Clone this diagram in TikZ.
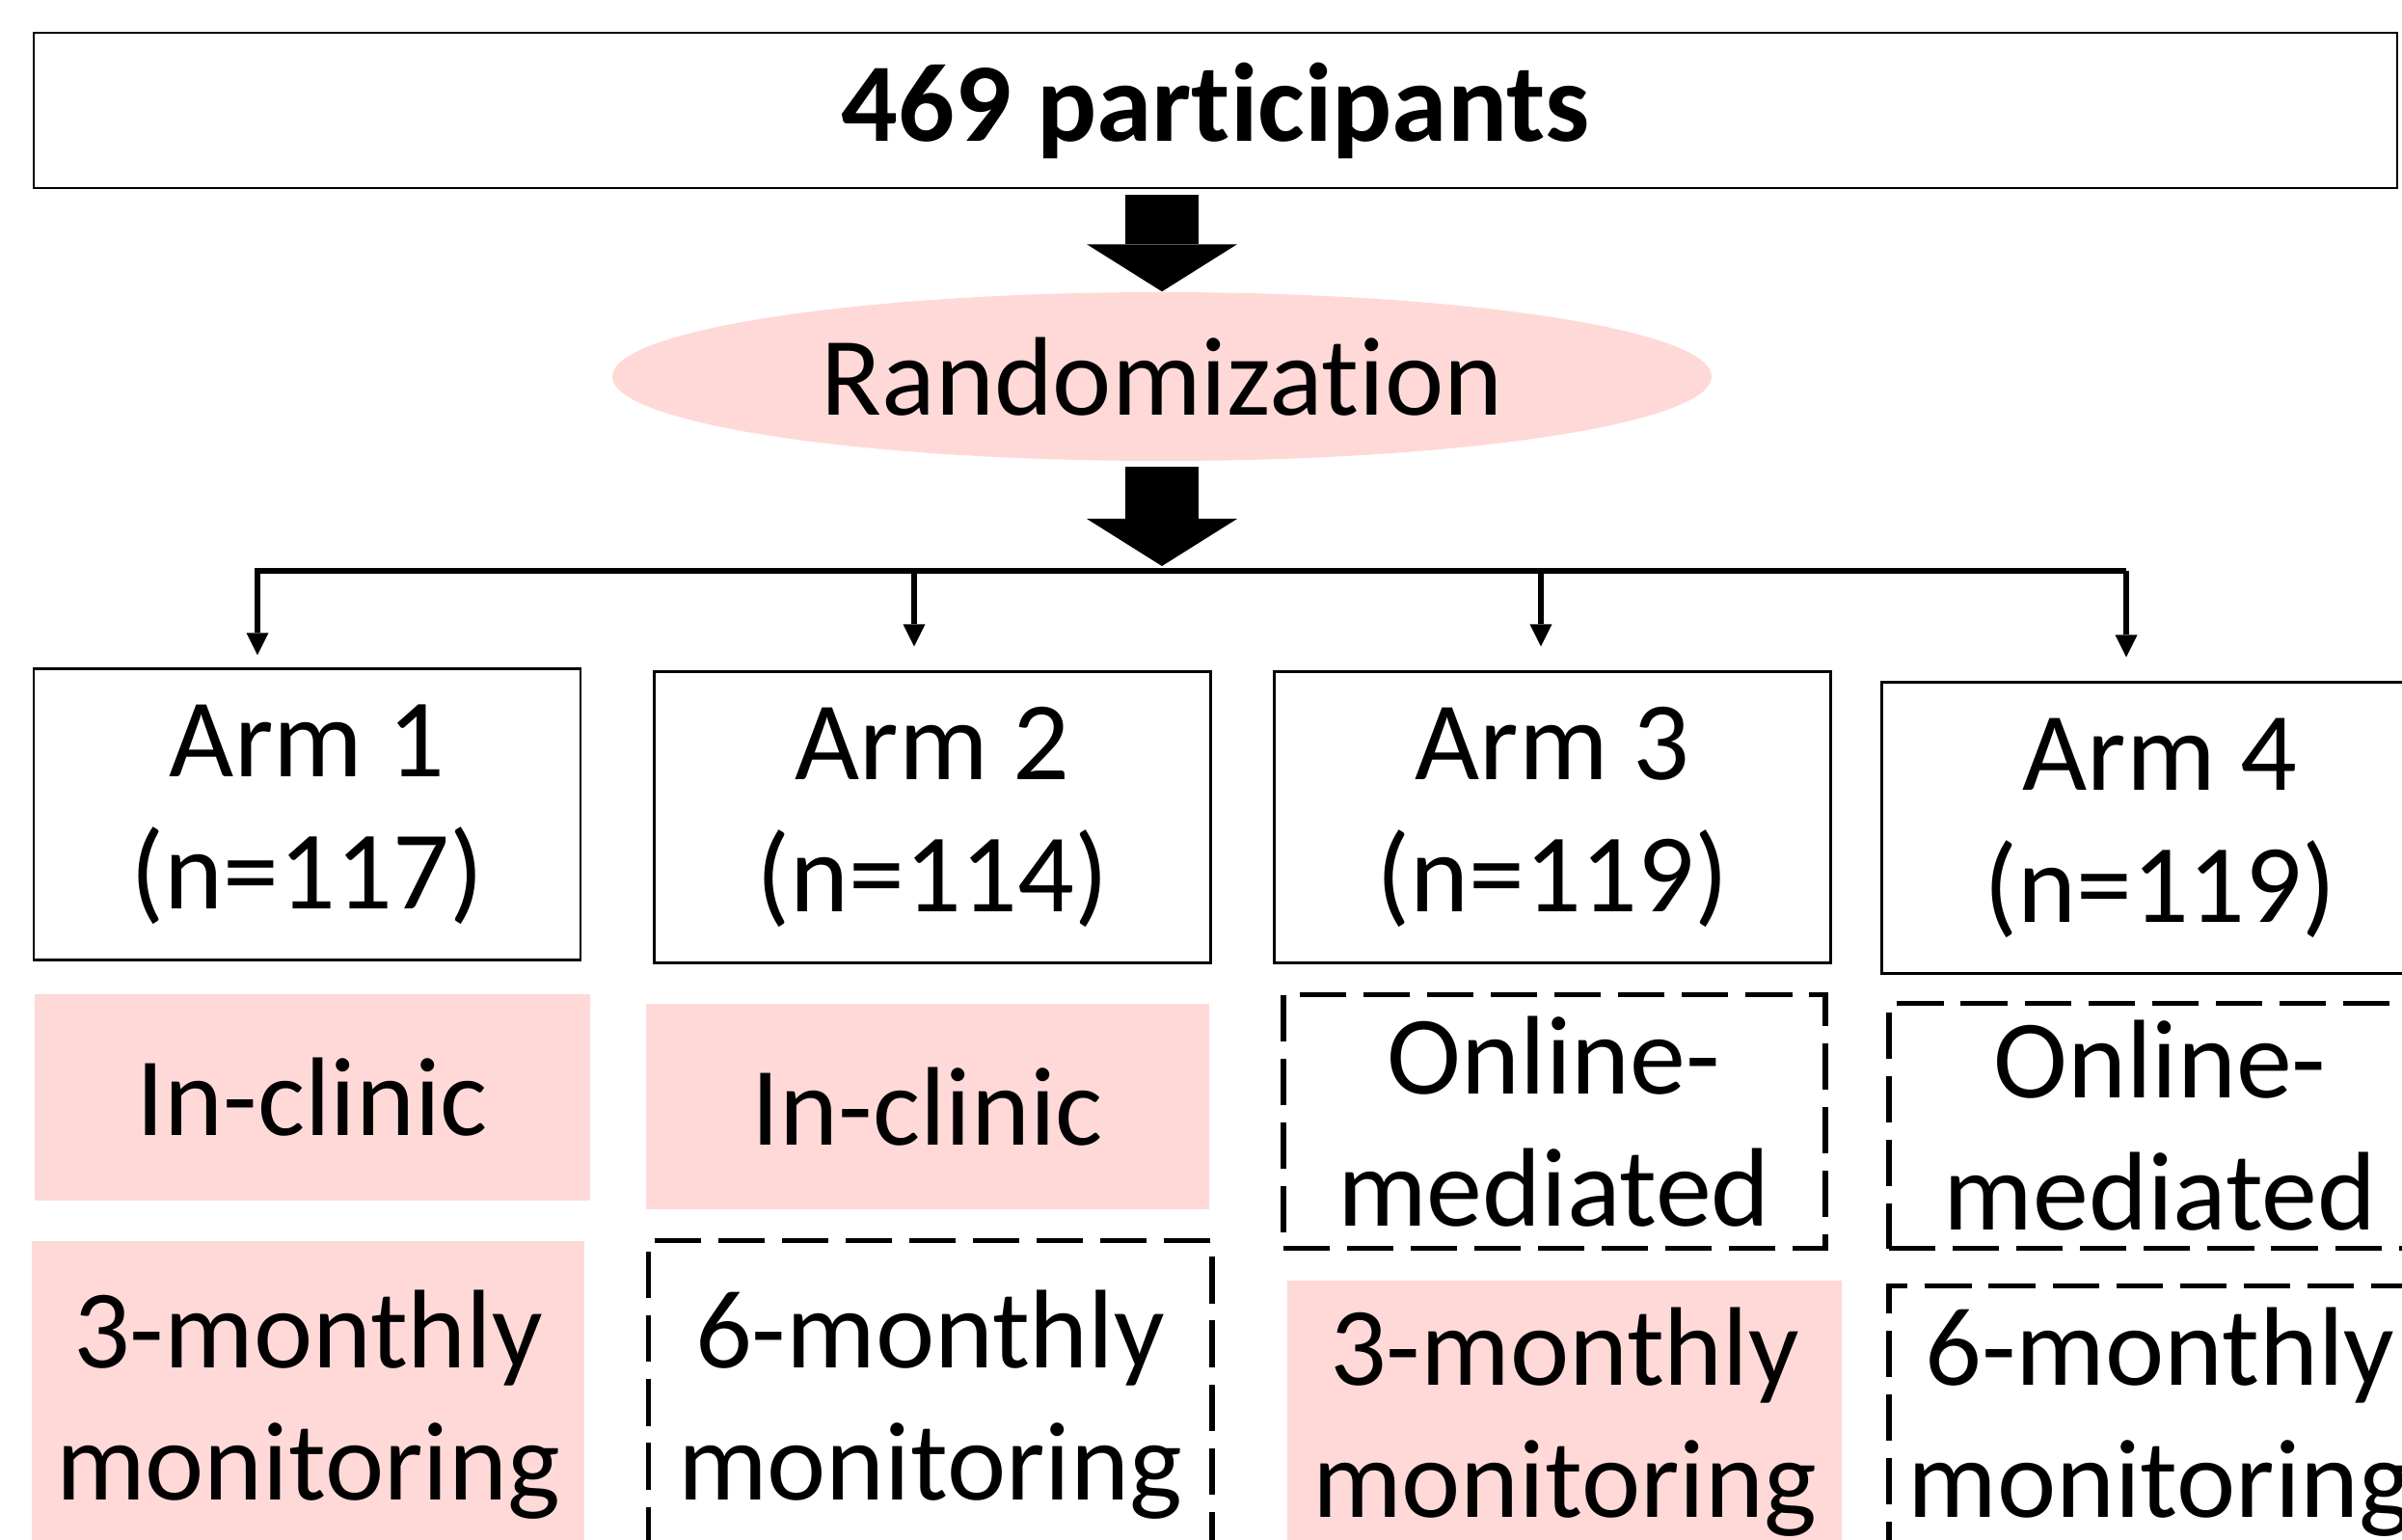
\documentclass[tikz,border=0pt]{standalone}
\usepackage{fontspec}
\setmainfont{Carlito}[RawFeature={-liga,-dlig,-clig}]
\usepackage{tikz}
\usetikzlibrary{arrows.meta,shapes.geometric,positioning}
\definecolor{ink}{HTML}{000000}
\definecolor{paper}{HTML}{FFFFFF}
\definecolor{pinkbg}{HTML}{FFD9D7}
\tikzset{
  bigtext/.style={font=\fontsize{33}{39}\selectfont},
  bigarr/.style={-{Triangle[width=1.56cm,length=0.49cm,line width=0pt]},line width=0.76cm,color=ink},
  thinarr/.style={-{Triangle[width=0.23cm,length=0.23cm,line width=0pt]},line width=1.85pt,color=ink,shorten >=0.25cm},
  titlecard/.style={draw=ink,fill=paper,line width=0.6pt,minimum width=24.51cm,minimum height=1.61cm,inner sep=0pt,font=\fontsize{33}{39}\selectfont\bfseries},
  randcard/.style={ellipse,fill=pinkbg,minimum width=11.4cm,minimum height=1.75cm,inner sep=0pt,bigtext},
  armcard/.style={draw=ink,line width=0.6pt,minimum width=5.77cm,minimum height=3.02cm,inner sep=0pt,align=center,bigtext},
  pinkcard/.style={fill=pinkbg,inner sep=0pt,align=center,bigtext},
  dashcard/.style={draw=ink,line width=1.7pt,dash pattern=on 13.7pt off 5.1pt,inner sep=0pt,align=center,bigtext}
}

\begin{document}
\begin{tikzpicture}[x=1cm,y=1cm,>=Latex]
  \clip (0,0) rectangle (24.91,-15.97);
  \node[titlecard] (top) at (12.605,-1.145) {469 participants};
  \node[randcard] (rand) at (12.05,-3.905) {Randomization};
  \coordinate (split) at (12.05,-5.87);
  \draw[bigarr] ([yshift=-0.06cm]rand.north |- top.south) -- (rand.north);
  \draw[bigarr] ([yshift=-0.05cm]rand.south) -- (split);

  \node[armcard,minimum width=5.67cm] (arm1) at (3.185,-8.445) {Arm 1\\(n=117)};
  \node[armcard] (arm2) at (9.67,-8.475) {Arm 2\\(n=114)};
  \node[armcard] (arm3) at (16.10,-8.475) {Arm 3\\(n=119)};
  \node[armcard] (arm4) at (22.40,-8.585) {Arm 4\\(n=119)};

  \coordinate (b1) at (2.67,-5.92); \coordinate (b2) at (9.48,-5.92);
  \coordinate (b3) at (15.98,-5.92); \coordinate (b4) at (22.05,-5.92);
  \draw[thinarr,shorten >=0.13cm] (b4) -- (b1) -- (b1 |- arm1.north);
  \foreach \i in {2,3,4} \draw[thinarr] (b\i) -- (b\i |- arm\i.north);

  \node[pinkcard,minimum width=5.76cm,minimum height=2.14cm] (mode1) at (3.24,-11.38) {In-clinic};
  \node[pinkcard,minimum width=5.84cm,minimum height=2.13cm] (mode2) at (9.62,-11.475) {In-clinic};
  \node[dashcard,minimum width=5.62cm,minimum height=2.63cm] (mode3) at (16.115,-11.63) {Online-\\mediated};
  \node[dashcard,minimum width=5.62cm,minimum height=2.54cm] (mode4) at (22.40,-11.675) {Online-\\mediated};

  \node[pinkcard,minimum width=5.73cm,minimum height=3.4cm] (freq1) at (3.195,-14.57) {3-monthly\\monitoring};
  \node[dashcard,minimum width=5.84cm,minimum height=3.4cm] (freq2) at (9.645,-14.565) {6-monthly\\monitoring};
  \node[pinkcard,minimum width=5.75cm,minimum height=2.94cm] (freq3) at (16.225,-14.75) {3-monthly\\monitoring};
  \node[dashcard,minimum width=5.62cm,minimum height=2.83cm] (freq4) at (22.40,-14.75) {6-monthly\\monitoring};
\end{tikzpicture}
\end{document}
